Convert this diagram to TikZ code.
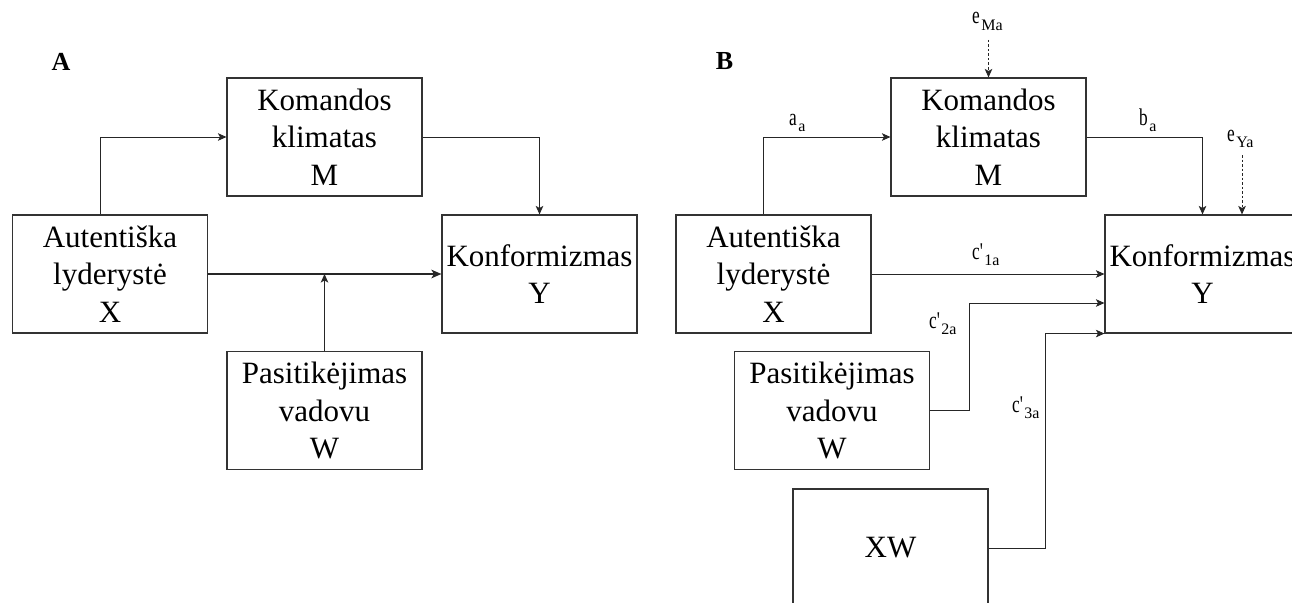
\documentclass[tikz,border=0pt]{standalone}
\usepackage{fontspec}
\setmainfont{Liberation Serif}
\newfontfamily\lblmain[FakeStretch=0.72,Ligatures=TeXOff]{Liberation Serif}
\newfontfamily\lblsub{Liberation Serif}
\newcommand{\pathlab}[2]{{\lblmain\fontsize{24}{26}\selectfont #1}\kern1.5pt\raisebox{-6pt}{\lblsub\fontsize{16}{17}\selectfont #2}}
\usetikzlibrary{arrows.meta,calc}
\begin{document}
\begin{tikzpicture}[x=1pt,y=-1pt,
  box/.style={draw=black!80,line width=1.1pt,minimum width=195pt,minimum height=118pt,
    inner sep=0pt,align=center,font=\fontsize{31}{37.5}\selectfont},
  conn/.style={draw=black!85,line width=1pt,-{Stealth[length=8.5pt,width=7.5pt,inset=2pt]}},
  thickconn/.style={conn,line width=2pt,-{Stealth[length=10pt,width=8.5pt,inset=2.5pt]}},
  errarrow/.style={conn,dash pattern=on 2.5pt off 2pt},
  lbl/.style={inner sep=0pt,anchor=base west},
  panel/.style={inner sep=0pt,font=\fontsize{26}{30}\selectfont\bfseries}]
\useasboundingbox (0,0) rectangle (1292,602);
\clip (0,0) rectangle (1292,602);

% ---------- Panel A ----------
\node[panel] (pA) at (61,62) {A};
\node[box] (Ma) at (324.5,137) {Komandos\\klimatas\\M};
\node[box] (Xa) at (110,274) {Autentiška\\lyderystė\\X};
\node[box] (Ya) at (539.5,274) {Konformizmas\\Y};
\node[box] (Wa) at (324.5,410.5) {Pasitikėjimas\\vadovu\\W};

\draw[conn] ($(Xa.north)+(-10,0)$) |- (Ma.west);
\draw[conn] (Ma.east) -| (Ya.north);
\draw[thickconn] (Xa.east) -- (Ya.west);
\draw[conn] (Wa.north) -- (Wa.north |- Xa.east);

% ---------- Panel B ----------
\node[panel] (pB) at (724.5,61) {B};
\node[box] (Mb) at (988.5,137) {Komandos\\klimatas\\M};
\node[box] (Xb) at (773.5,274) {Autentiška\\lyderystė\\X};
\node[box] (Yb) at (1202.5,274) {Konformizmas\\Y};
\node[box] (Wb) at (832,410.5) {Pasitikėjimas\\vadovu\\W};
\node[box] (XWb) at (890.5,548) {XW};

\coordinate (eMs) at (988.5,40);
\coordinate (eYs) at (1242,155);
\draw[errarrow] (eMs) -- (Mb.north);
\draw[errarrow] (eYs) -- (eYs |- Yb.north);

\draw[conn] ($(Xb.north)+(-10,0)$) |- (Mb.west);
\draw[conn] (Mb.east) -| (Yb.north);
\draw[conn] (Xb.east) -- (Yb.west);
\draw[conn] (Wb.east) -- ++(39,0) |- ($(Yb.west)+(0,29)$);
\draw[conn] (XWb.east) -- ++(57,0) |- (Yb.south west);

\node[lbl] (leM) at (972,24) {\pathlab{e}{Ma}};
\node[lbl] (leY) at (1227,141) {\pathlab{e}{Ya}};
\node[lbl] (la) at (789,125) {\pathlab{a}{a}};
\node[lbl] (lb) at (1139,125) {\pathlab{b}{a}};
\node[lbl] (lc1) at (972,259) {\pathlab{c'}{1a}};
\node[lbl] (lc2) at (929,328) {\pathlab{c'}{2a}};
\node[lbl] (lc3) at (1012,412) {\pathlab{c'}{3a}};
\end{tikzpicture}
\end{document}
